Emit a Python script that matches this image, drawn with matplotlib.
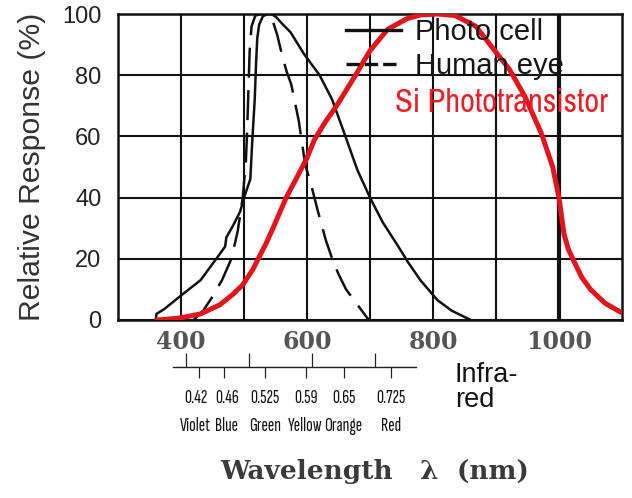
import numpy as np
import matplotlib
matplotlib.use('Agg')
import matplotlib.pyplot as plt
import matplotlib.font_manager as fm
import matplotlib.transforms as mtransforms
from matplotlib.lines import Line2D

# ---------------- data ----------------
pc_wl = [360, 361, 373, 400, 431, 456, 470, 472, 483, 494, 500, 510, 513, 517, 519, 521, 524,
         530, 538, 545, 551, 562, 574, 595, 620, 640, 661, 680, 700, 720, 745, 760, 780, 807, 830, 860]
pc_resp = [0, 2, 3.5, 8, 13, 20, 24, 27, 31, 35.5, 40, 46, 58, 72, 83, 92, 96.5,
           99.3, 100, 99.8, 99, 96.5, 94, 87, 80, 72, 60, 49, 40, 32, 24, 19, 13, 6.5, 3, 0]

eye_wl = [420, 435, 448, 465, 480, 490, 498, 503, 505, 507, 509, 512, 518, 528, 538, 546, 553,
          561, 568, 575, 587, 597, 608, 618, 630, 640, 650, 662, 680, 698]
eye_resp = [0, 3, 7, 13, 20, 29, 40, 52, 62, 75, 88, 96, 99.5, 100, 99.5, 97.5, 93,
            86, 81, 77, 65, 51, 43, 35, 26, 20, 15, 10, 5, 0]

si_wl = [362, 380, 400, 431, 462, 483, 498, 514, 525, 535, 546, 567, 585, 600, 612, 630, 647, 662,
         677, 700, 728, 759, 780, 807, 835, 868, 898, 921, 946, 972, 990, 1000, 1008, 1015, 1023,
         1036, 1050, 1073, 1100]
si_resp = [0, 0.3, 0.7, 2, 5, 8.5, 11.5, 16.5, 21, 25, 30, 40, 47, 53, 59, 65, 70, 75,
           80, 88, 95, 98.5, 99.7, 100, 99.5, 96, 88, 82, 73, 61, 50, 40, 28, 23, 19.5,
           14, 10, 5.5, 2.3]

x_range = (300, 1100)
y_range = (0, 100)
x_labeled_ticks = [400, 600, 800, 1000]
x_unlabeled_grid = [500, 700, 900]
y_ticks = [0, 20, 40, 60, 80, 100]

spectrum_major = [400, 500, 600, 700]
spectrum_wl = [420, 460, 525, 590, 650, 725]
spectrum_um = ['0.42', '0.46', '0.525', '0.59', '0.65', '0.725']
spectrum_names = ['Violet', 'Blue', 'Green', 'Yellow', 'Orange', 'Red']
spectrum_span = (380, 765)

# ---------------- fonts ----------------
installed = {f.name for f in fm.fontManager.ttflist}


def pick(cands):
    for c in cands:
        if c in installed:
            return c
    return 'DejaVu Sans'


xnarrow = pick(['Sofia Sans Extra Condensed', 'Saira ExtraCondensed', 'Fira Sans Extra Condensed',
                'Barlow Condensed', 'Roboto Condensed', 'Liberation Sans'])
narrow = pick(['Archivo Narrow', 'PT Sans Narrow', 'Roboto Condensed', 'Liberation Sans'])
sans = ['Liberation Sans', 'DejaVu Sans']
serif = ['DejaVu Serif']

# ---------------- figure ----------------
fig = plt.figure(figsize=(6.32, 4.98), dpi=100)
fig.patch.set_facecolor('white')
W, H = 632, 498
ax = fig.add_axes([118 / W, (H - 320) / H, 504 / W, 306 / H])

ax.set_xlim(*x_range)
ax.set_ylim(*y_range)
ax.set_xticks(x_labeled_ticks)
ax.set_xticks(x_unlabeled_grid, minor=True)
ax.set_yticks(y_ticks)
ax.grid(True, which='both', color='#111111', linewidth=1.5)
ax.set_axisbelow(True)
for sp in ax.spines.values():
    sp.set_linewidth(1.8)
    sp.set_color('#111111')

# emphasise 1000 nm grid line
for gl, t in zip(ax.get_xgridlines(), x_labeled_ticks):
    if t == 1000:
        gl.set_linewidth(3.0)

ax.tick_params(axis='both', which='both', length=0)
ax.tick_params(axis='x', pad=7)
ax.tick_params(axis='y', pad=12)
for lbl in ax.get_xticklabels():
    lbl.set_fontfamily(serif)
    lbl.set_fontweight('bold')
    lbl.set_fontsize(17)
    lbl.set_color('#555555')
for lbl in ax.get_yticklabels():
    lbl.set_fontfamily(sans)
    lbl.set_fontsize(17)
    lbl.set_color('#222222')

# curves
l_pc, = ax.plot(pc_wl, pc_resp, color='#111111', lw=1.8, solid_capstyle='round',
                label='Photo cell', zorder=3)
l_eye, = ax.plot(eye_wl, eye_resp, color='#111111', lw=1.8, dashes=(12, 5),
                 label='Human eye', zorder=3)
l_si, = ax.plot(si_wl, si_resp, color='#e3141b', lw=3.6, solid_capstyle='round',
                label='Si Phototransistor', zorder=4)

# legend (black curves) + red label
h_pc = Line2D([], [], color='#111111', lw=2.4)
h_eye = Line2D([], [], color='#111111', lw=2.4, dashes=(4, 1.5))
leg = ax.legend([h_pc, h_eye], ['Photo cell', 'Human eye'], loc='upper left',
                bbox_to_anchor=((346 - 118) / 504, (320 - 18) / 306), frameon=False, borderpad=0,
                borderaxespad=0, handlelength=1.9, handletextpad=0.45, labelspacing=0.2,
                prop={'family': sans, 'size': 21})
for t in leg.get_texts():
    t.set_color('#151515')
ax.text((395 - 118) / 504, (320 - 103) / 306, 'Si Phototransistor', transform=ax.transAxes,
        ha='left', va='center', fontsize=23.3, family=narrow, color='#ee1c25', zorder=5)

# axis labels
ax.set_ylabel('Relative Response (%)', fontsize=21.7, family=sans, color='#333333')
ax.yaxis.set_label_coords((46 - 118) / 504, (320 - 167) / 306)
ax.set_xlabel('Wavelength   λ  (nm)', fontsize=19, family=serif, fontweight='bold', color='#3a3a3a')
ax.xaxis.set_label_coords((375 - 118) / 504, (320 - 472) / 306)
ax.xaxis.label.set_va('center')

# spectrum scale below the axis (pasted slightly to the right in the reference)
sx = fig.add_axes([123 / W, (H - 367) / H, 504 / W, 0.0001])
sx.set_xlim(*x_range)
sx.patch.set_alpha(0)
for k in ('top', 'left', 'right'):
    sx.spines[k].set_visible(False)
sx.spines['bottom'].set_bounds(*spectrum_span)
sx.spines['bottom'].set_linewidth(1.0)
sx.spines['bottom'].set_color('#222222')
sx.set_yticks([])
sx.set_xticks(spectrum_major)
sx.set_xticks(spectrum_wl, minor=True)
sx.set_xticklabels([f"{u}\n{n}" for u, n in zip(spectrum_um, spectrum_names)], minor=True)
sx.tick_params(axis='x', which='major', direction='in', length=10, width=0.9,
               color='#222222', labelbottom=False)
sx.tick_params(axis='x', which='minor', direction='out', length=8, width=0.9,
               color='#222222', pad=8)
label_nudge_px = {'Violet': -3, 'Blue': 3}
for lbl in sx.get_xticklabels(minor=True):
    lbl.set_fontfamily(xnarrow)
    lbl.set_fontsize(14)
    lbl.set_linespacing(1.72)
    lbl.set_color('#111111')
    name = lbl.get_text().split('\n')[-1]
    if name in label_nudge_px:
        off = mtransforms.ScaledTranslation(label_nudge_px[name] / 100, 0, fig.dpi_scale_trans)
        lbl.set_transform(lbl.get_transform() + off)

fig.text(455 / W, (H - 362) / H, 'Infra-\nred', ha='left', va='top', fontsize=19.5,
         family=sans, color='#111111', linespacing=0.95)

fig.savefig('out.png', dpi=100)
